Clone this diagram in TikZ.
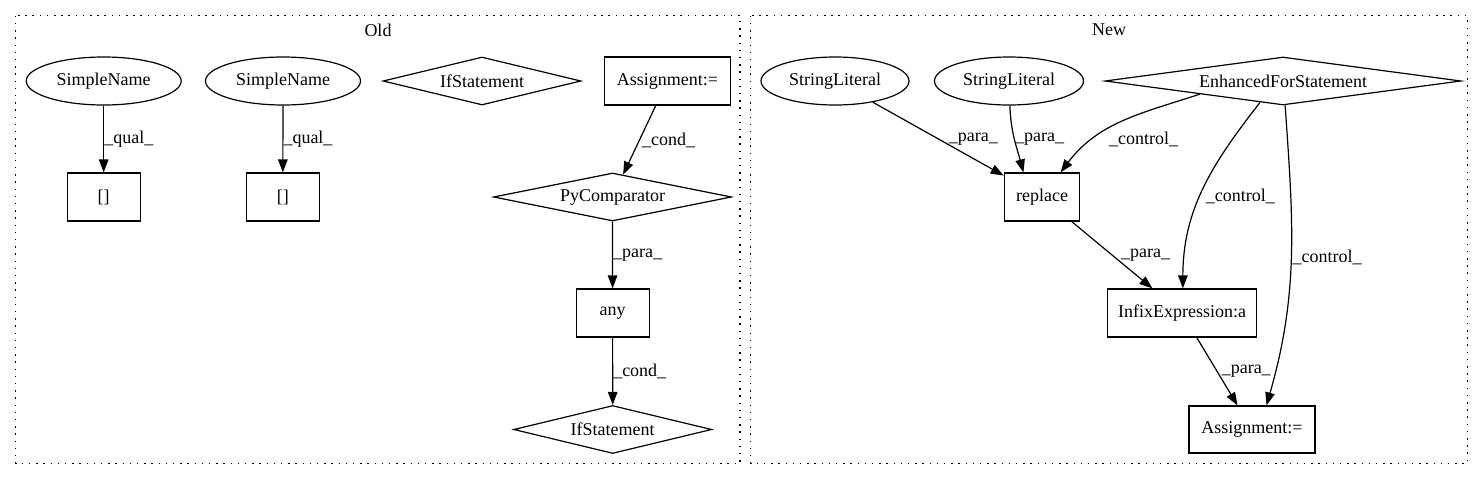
\documentclass[tikz,border=0pt]{standalone}
\usepackage{fontspec}
\setmainfont{Liberation Serif}
\usetikzlibrary{shapes.geometric,arrows.meta}

\begin{document}
\begin{tikzpicture}[x=1pt, y=1pt, line width=1.2pt,
        every node/.style={font=\fontsize{18}{20}\selectfont, inner sep=0pt},
        box/.style={draw, rectangle, minimum height=48pt},
        oval/.style={draw, ellipse, minimum height=48pt},
        rhomb/.style={draw, diamond, minimum height=48pt},
        clus/.style={dash pattern=on 1.5pt off 5.7pt},
        arr/.style={-{Triangle[length=13pt, width=9.5pt]}},
        lbl/.style={anchor=west}]
            \useasboundingbox (0,0) rectangle (1484,-480);
            \draw[clus] ( 15.7, -15.7) rectangle ( 740.0, -463.3);
            \draw[clus] (750.7, -15.7) rectangle (1467.3, -463.3);
            \node (old) at ( 378.0, -30.0) {Old};
            \node (new) at (1109.0, -30.0) {New};

            \node[oval,  minimum width=155pt]              (sn1)   at ( 103.7,  -81.0) {SimpleName};
            \node[oval,  minimum width=155pt]              (sn2)   at ( 283.0,  -81.0) {SimpleName};
            \node[rhomb, minimum width=198pt, aspect=4.1]  (if1)   at ( 482.0,  -81.0) {IfStatement};
            \node[box,   minimum width=126pt]              (asg1)  at ( 667.4,  -81.0) {Assignment:=};
            \node[box,   minimum width=73pt]               (br1)   at ( 103.7, -197.0) {[]};
            \node[box,   minimum width=73pt]               (br2)   at ( 282.8, -197.0) {[]};
            \node[rhomb, minimum width=238pt, aspect=5]    (cmp)   at ( 612.5, -197.0) {PyComparator};
            \node[box,   minimum width=73pt]               (any)   at ( 612.6, -313.0) {any};
            \node[rhomb, minimum width=198pt, aspect=4.1]  (if2)   at ( 612.7, -429.5) {IfStatement};

            \node[oval,  minimum width=148pt]              (sl1)   at ( 835.0,  -81.0) {StringLiteral};
            \node[oval,  minimum width=149pt]              (sl2)   at (1009.0,  -81.0) {StringLiteral};
            \node[rhomb, minimum width=356pt, aspect=7.4]  (efs)   at (1283.0,  -81.0) {EnhancedForStatement};
            \node[box,   minimum width=75.4pt]             (rep)   at (1042.0, -197.0) {replace};
            \node[box,   minimum width=149.4pt]            (infix) at (1182.0, -313.0) {InfixExpression:a};
            \node[box,   minimum width=126pt, minimum height=47pt] (asg2) at (1252.0, -429.5) {Assignment:=};

            \draw[arr] (sn1)  -- (br1) node[lbl, midway] {\_qual\_};
            \draw[arr] (sn2)  -- (br2) node[lbl, midway] {\_qual\_};
            \draw[arr] (asg1) -- (cmp) node[lbl, midway, xshift=2pt] {\_cond\_};
            \draw[arr] (cmp)  -- (any) node[lbl, midway] {\_para\_};
            \draw[arr] (any)  -- (if2) node[lbl, midway] {\_cond\_};

            \draw[arr] (sl1) -- (rep) node[lbl, midway, xshift=10pt] {\_para\_};
            \draw[arr] (sl2.-88) to[out=-88, in=105] node[lbl, pos=0.5] {\_para\_} (rep.127);
            \draw[arr] (efs.189) to[out=198, in=53] node[lbl, pos=0.72, xshift=15pt] {\_control\_} (rep.53);
            \draw[arr] (efs.223) to[out=232, in=90] node[lbl, pos=0.54, xshift=5pt] {\_control\_} (infix.88);
            \draw[arr] (efs.-85) to[out=-86, in=74] node[lbl, pos=0.5, xshift=1pt] {\_control\_} (asg2.59);
            \draw[arr] (rep)   -- (infix) node[lbl, midway, xshift=8.5pt] {\_para\_};
            \draw[arr] (infix) -- (asg2)  node[lbl, midway, xshift=4pt] {\_para\_};
        \end{tikzpicture}
\end{document}
